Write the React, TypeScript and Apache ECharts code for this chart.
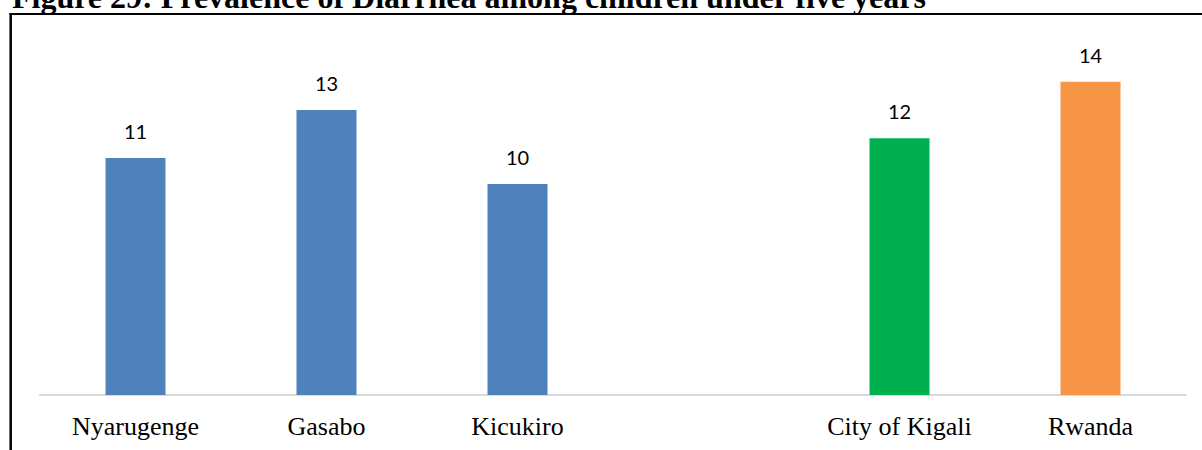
import React, { useEffect, useRef } from "react";
import * as echarts from "echarts";

const titleText = "Figure 29: Prevalence of Diarrhea among children under five years";
const categories = ["Nyarugenge", "Gasabo", "Kicukiro", "", "City of Kigali", "Rwanda"];
const values: (number | null)[] = [10.9, 13.1, 9.7, null, 11.8, 14.4];
const barColors = ["#4f81bd", "#4f81bd", "#4f81bd", "#4f81bd", "#00b050", "#f79646"];

export default function App() {
  const ref = useRef<HTMLDivElement>(null);
  useEffect(() => {
    if (!ref.current) return;
    const chart = echarts.init(ref.current, null, { renderer: "svg" });
    chart.setOption({
      animation: false,
      backgroundColor: "#ffffff",
      grid: { left: 40, right: 16, top: 47, bottom: 55, containLabel: false },
      xAxis: {
        type: "category",
        data: categories,
        axisLine: { show: true, lineStyle: { color: "#d9d9d9", width: 2 } },
        axisTick: { show: false },
        axisLabel: {
          color: "#000000",
          fontFamily: "Liberation Serif",
          fontSize: 26,
          margin: 18,
          interval: 0,
        },
      },
      yAxis: {
        type: "value",
        min: 0,
        max: 16,
        show: false,
        splitLine: { show: false },
      },
      series: [
        {
          type: "bar",
          barWidth: 60,
          data: values.map((v, i) => ({
            value: v,
            itemStyle: { color: barColors[i] },
          })),
          label: {
            show: true,
            position: "top",
            distance: 17,
            color: "#000000",
            fontFamily: "Lato",
            fontSize: 20,
            formatter: (p: any) => (p.value == null ? "" : String(Math.round(p.value))),
          },
        },
      ],
      graphic: [
        {
          type: "text",
          x: 12,
          y: -3.5,
          style: {
            text: titleText,
            font: "bold 32px 'Liberation Serif'",
            fill: "#000000",
            verticalAlign: "middle",
            align: "left",
          },
        },
        {
          type: "line",
          shape: { x1: 9.5, y1: 14, x2: 1202, y2: 14 },
          style: { stroke: "#000000", lineWidth: 2 },
        },
        {
          type: "line",
          shape: { x1: 10.7, y1: 13, x2: 10.7, y2: 450 },
          style: { stroke: "#000000", lineWidth: 2.5 },
        },
      ],
    });
    return () => chart.dispose();
  }, []);
  return (
    <div
      ref={ref}
      style={{ position: "absolute", left: 0, top: 0, width: 1202, height: 450 }}
    />
  );
}
